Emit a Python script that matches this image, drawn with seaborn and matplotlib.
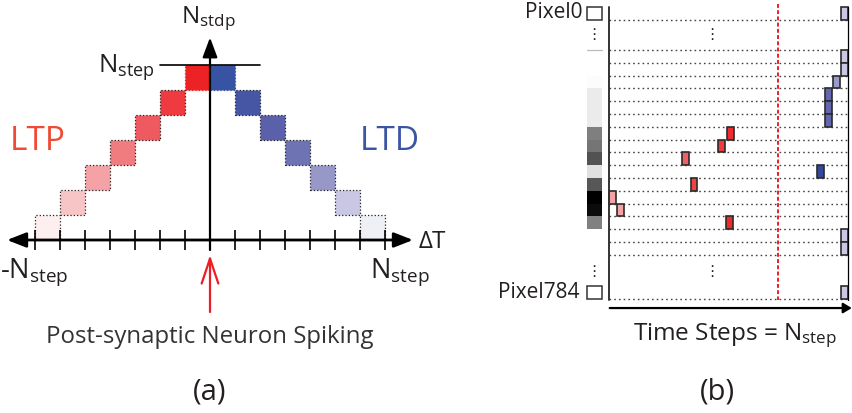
import matplotlib
matplotlib.use("Agg")
import matplotlib.pyplot as plt
import seaborn as sns

# ---------------- (a) STDP window ----------------
# time offset of the pre-synaptic spike (in steps) and resulting N_stdp
dt_ltp = [-1, -2, -3, -4, -5, -6, -7]
dt_ltd = [1, 2, 3, 4, 5, 6, 7]
nstdp_ltp = [7, 6, 5, 4, 3, 2, 1]
nstdp_ltd = [7, 6, 5, 4, 3, 2, 1]
ltp_colors = ["#ED2224", "#EF3B3F", "#EE5A60", "#F07C80", "#F4A2A5", "#F8C5C6", "#FDEEEF"]
ltd_colors = ["#3953A4", "#4656A5", "#5A60AA", "#6E73B3", "#9797C8", "#C9C7E3", "#EFEFF6"]
tick_steps = [-7, -6, -5, -4, -3, -2, -1, 0, 1, 2, 3, 4, 5, 6, 7]
n_step_a = 7

# ---------------- (b) spike raster ----------------
# row 0 = Pixel0, rows 1..16 = visible pixels, row 17 = Pixel784
row_top = [-3.34, 0, 1, 2, 3, 4, 5, 6, 7, 8, 9, 10, 11, 12, 13, 14, 15, 18.45]
row_lines = [-2.34, 0, 1, 2, 3, 4, 5, 6, 7, 8, 9, 10, 11, 12, 13, 14, 15, 16, 19.45]
pixel_gray = ["#FFFFFF", "#FFFFFF", "#FAFCFE", "#EBEBEB", "#EBEBEB", "#EBEBEB",
              "#7F7F7F", "#757575", "#525252", "#E0E0E0", "#575757", "#000000",
              "#0B0B0B", "#808080", "#FFFFFF", "#FFFFFF"]
spike_row = [0, 1, 2, 3, 4, 5, 6, 7, 8, 9, 10, 11, 12, 13, 14, 15, 16, 17]
spike_time = [31.53, 31.53, 31.53, 30.5, 29.4, 29.4, 29.4, 16.29, 15.0, 10.28,
              28.3, 11.38, 0.47, 1.54, 16.13, 31.53, 31.53, 31.53]
spike_color = ["#C9C7E4", "#C9C7E4", "#C9C7E4", "#9A9ACB", "#6367AE", "#6367AE",
               "#6367AE", "#EE2B2F", "#EE3B3E", "#F06065", "#34499A", "#EE4448",
               "#F4A3A5", "#F4A3A5", "#EE2A2A", "#C9C7E4", "#C9C7E4", "#C9C7E4"]
post_spike_time = 22.6
n_step_b = 32

sns.set_theme(style="white")
plt.rcParams["font.family"] = ["Open Sans", "DejaVu Sans"]
plt.rcParams["mathtext.fontset"] = "custom"
plt.rcParams["mathtext.rm"] = "Open Sans"
plt.rcParams["mathtext.it"] = "Open Sans:italic"
plt.rcParams["mathtext.bf"] = "Open Sans:bold"

TXT = "#231F20"
fig = plt.figure(figsize=(8.53, 4.13), dpi=100)
fig.patch.set_facecolor("white")


def arrow(ax, start, end, style, lw, color, ms=10):
    ax.annotate("", xy=end, xytext=start,
                arrowprops=dict(arrowstyle=style, lw=lw, color=color,
                                shrinkA=0, shrinkB=0, mutation_scale=ms))


# ---------- panel (a) ----------
ax = fig.add_axes([0, 0, 420 / 853, 1])
ax.set_xlim(-8.4, 8.4)
ax.set_ylim(-6.92, 9.6)
ax.axis("off")

for i, (x, n, c) in enumerate(zip(dt_ltp, nstdp_ltp, ltp_colors)):
    ax.bar(x + 0.5, 1, width=1, bottom=n - 1, color=c,
           edgecolor="#222222" if i else c, linestyle=":", linewidth=0.9, zorder=2)
for i, (x, n, c) in enumerate(zip(dt_ltd, nstdp_ltd, ltd_colors)):
    ax.bar(x - 0.5, 1, width=1, bottom=n - 1, color=c,
           edgecolor="#222222" if i else c, linestyle=":", linewidth=0.9, zorder=2)

# horizontal ΔT axis with ticks
arrow(ax, (-8.12, 0), (8.12, 0), "<|-|>,head_length=1.15,head_width=0.45", 2.0, "black")
ax.vlines(tick_steps, -0.4, 0.4, color="black", lw=1.2, zorder=3)
# vertical N_stdp axis
ax.plot([0, 0], [-0.4, 7.5], color="black", lw=1.6, zorder=3)
arrow(ax, (0, 7.3), (0, 8.1), "-|>,head_length=1.2,head_width=0.45", 1.6, "black")
# N_step level
ax.plot([-2, 2], [n_step_a, n_step_a], color="black", lw=1.2, zorder=3)

ax.text(-0.08, 8.68, r"N$_{\mathrm{stdp}}$", ha="center", va="baseline", fontsize=17.5, color=TXT)
ax.text(-2.2, 6.72, r"N$_{\mathrm{step}}$", ha="right", va="baseline", fontsize=18.5, color=TXT)
ax.text(-8.0, 3.6, "LTP", ha="left", va="baseline", fontsize=24, color="#EF4A35")
ax.text(6.0, 3.6, "LTD", ha="left", va="baseline", fontsize=24, color="#3A55A4")
ax.text(8.35, -0.3, "ΔT", ha="left", va="baseline", fontsize=17.5, color=TXT)
ax.text(-8.4, -1.48, r"-N$_{\mathrm{step}}$", ha="left", va="baseline", fontsize=19.5, color=TXT)
ax.text(6.4, -1.48, r"N$_{\mathrm{step}}$", ha="left", va="baseline", fontsize=19.5, color=TXT)

arrow(ax, (0, -2.88), (0, -0.6), "->,head_length=1.8,head_width=0.6", 1.6, "#EE1C25")
ax.text(0, -4.12, "Post-synaptic Neuron Spiking", ha="center", va="baseline",
        fontsize=17.3, color="#333333")
ax.text(0, -6.08, "(a)", ha="center", va="center", fontsize=21, color=TXT)

# ---------- panel (b) ----------
bx = fig.add_axes([520 / 853, 0, 333 / 853, 1])
bx.set_xlim(-11.91, 32.66)
bx.set_ylim(28.36, -3.906)
bx.axis("off")

# grey-level input pixels
for r, g in enumerate(pixel_gray):
    bx.bar(-1.94, 1, width=2, bottom=r, color=g, linewidth=0, zorder=2)
bx.plot([-2.94, -0.94], [0, 0], color="#BBBBBB", lw=0.9, zorder=2)
for r in (0, len(row_top) - 1):
    bx.bar(-1.94, 1, width=2, bottom=row_top[r], color="white",
           edgecolor="#333333", linewidth=1.1, zorder=2)

# row separators
bx.hlines(row_lines, 0, n_step_b, color="#444444", lw=1.0,
          linestyles=(0, (1.2, 2.2)), zorder=1)

# spikes
for r, t, c in zip(spike_row, spike_time, spike_color):
    bx.bar(t, 1, width=0.93, bottom=row_top[r], color=c,
           edgecolor="#2B2B2B", linewidth=1.2, zorder=3)

# post-synaptic spike time
bx.plot([post_spike_time, post_spike_time], [-3.6, 19.5], color="#EE1C25",
        lw=1.4, linestyle=(0, (2, 1.2)), zorder=2)

# frame lines and time axis
bx.plot([0, 0], [-3.34, 19.5], color="#333333", lw=1.4, zorder=4)
bx.plot([n_step_b, n_step_b], [-3.34, 19.5], color="black", lw=0.9, zorder=4)
arrow(bx, (0.1, 20.16), (32.5, 20.16), "-|>,head_length=0.5,head_width=0.3", 1.6, "black")

for x in (-2.0, 13.8):
    for y in (-1.2, 17.3):
        bx.text(x, y, "⋮", ha="center", va="center", fontsize=11,
                family="DejaVu Sans", color="#222222")

bx.text(-3.61, -2.5, "Pixel0", ha="right", va="baseline", fontsize=15, color=TXT)
bx.text(-3.88, 19.4, "Pixel784", ha="right", va="baseline", fontsize=15, color=TXT)
bx.text(3.2, 22.66, r"Time Steps = N$_{\mathrm{step}}$", ha="left", va="baseline",
        fontsize=17.5, color=TXT)
bx.text(14.46, 26.7, "(b)", ha="center", va="center", fontsize=21, color=TXT)

fig.savefig("out.png", dpi=100, facecolor="white")
